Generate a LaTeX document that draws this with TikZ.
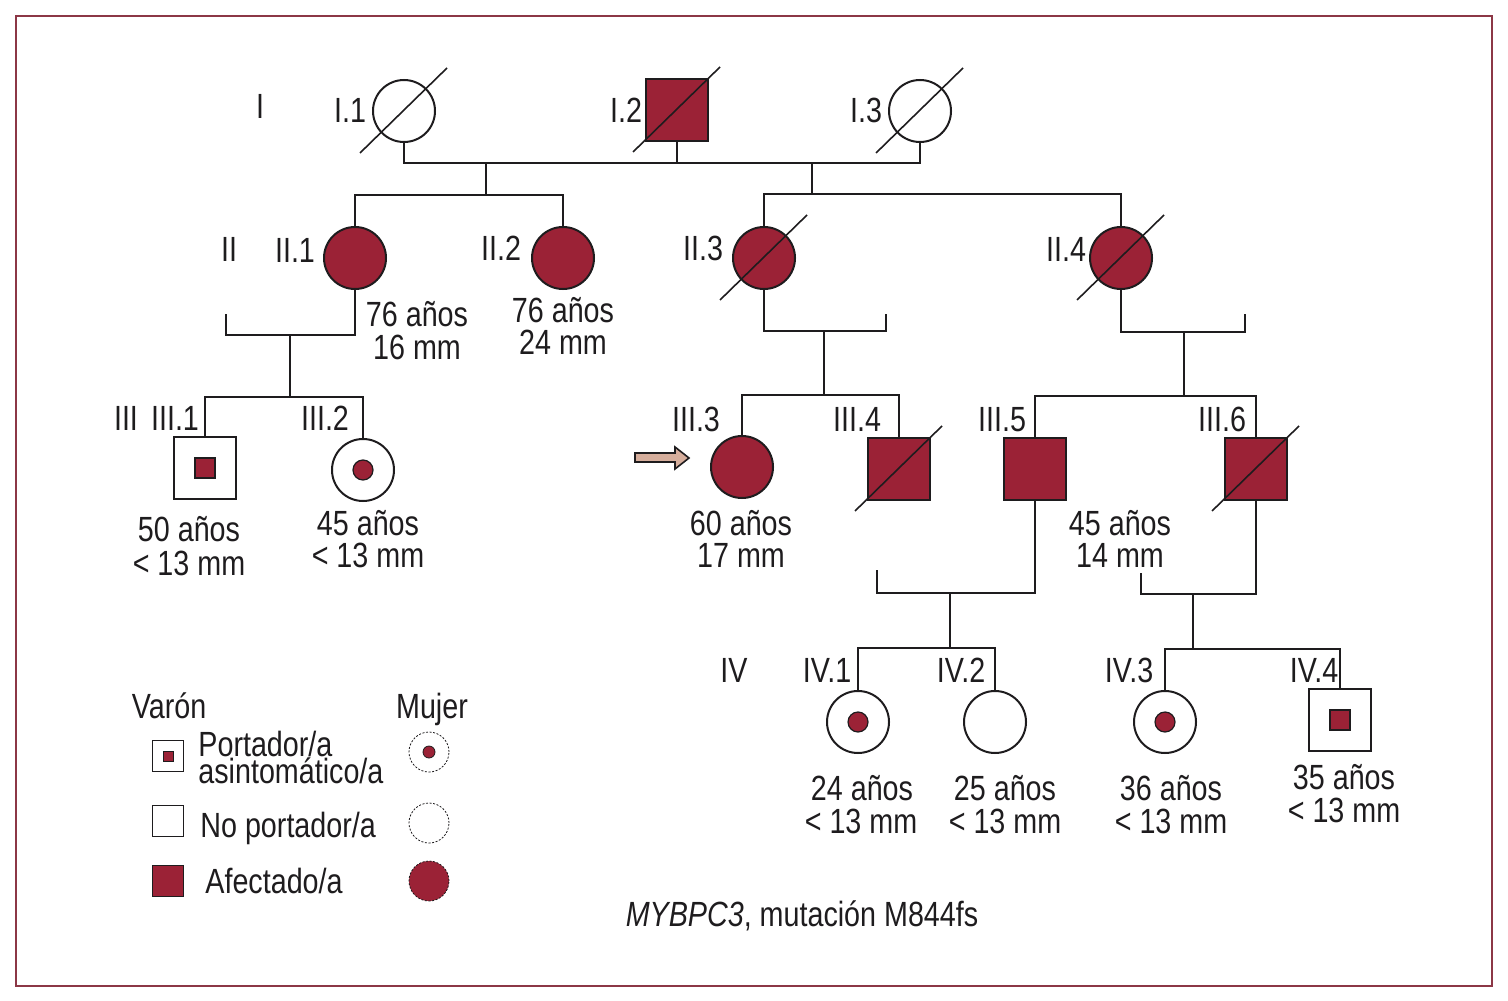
\documentclass[tikz,border=0pt]{standalone}
\usepackage{fontspec}
\setmainfont{Liberation Sans}[FakeStretch=0.82]
\definecolor{affred}{RGB}{155,34,54}
\definecolor{framered}{RGB}{140,55,70}
\definecolor{ink}{RGB}{30,28,30}
\definecolor{arrowfill}{RGB}{214,174,156}
\newcommand\deadmark[1]{\draw[strike] ([shift={(-44,42)}]#1.center) -- ([shift={(43,-43)}]#1.center);}
\begin{document}
\begin{tikzpicture}[x=0.5pt,y=-0.5pt,
  sym/.style={draw=ink, line width=1pt, inner sep=0pt, outer sep=0pt, minimum size=31pt, fill=white},
  fem/.style={sym, circle},
  mal/.style={sym, rectangle},
  affected/.style={fill=affred},
  cdot/.style={circle, draw=ink, line width=0.6pt, fill=affred, minimum size=10pt, inner sep=0pt},
  csq/.style={rectangle, draw=ink, line width=0.6pt, fill=affred, minimum size=10pt, inner sep=0pt},
  link/.style={draw=ink, line width=1pt},
  strike/.style={draw=ink, line width=0.8pt},
  lab/.style={anchor=base, inner sep=0pt, text=ink, font=\fontsize{17.5}{17.5}\selectfont},
  lgbox/.style={rectangle, draw=ink, line width=0.6pt, minimum size=15.5pt, inner sep=0pt, fill=white},
  lgcirc/.style={circle, draw=ink, line width=0.4pt, dash pattern=on 1pt off 0.8pt, minimum size=20pt, inner sep=0pt, fill=white}
]
\useasboundingbox (0,0) rectangle (1508,1000);
\draw[framered, line width=1pt] (16,16) rectangle (1492,986);

% ---- generation I
\node[fem] (I1) at (404,111) {};
\node[mal, affected] (I2) at (677,110) {};
\node[fem] (I3) at (920,111) {};
% ---- generation II
\node[fem, affected] (II1) at (355,258) {};
\node[fem, affected] (II2) at (563,258) {};
\node[fem, affected] (II3) at (764,258) {};
\node[fem, affected] (II4) at (1121,258) {};
% ---- generation III
\node[mal] (III1) at (205,468) {};
\node[csq] (III1d) at (III1.center) {};
\node[fem] (III2) at (363,470) {};
\node[cdot] (III2d) at (III2.center) {};
\node[fem, affected] (III3) at (742,467) {};
\node[mal, affected] (III4) at (899,469) {};
\node[mal, affected] (III5) at (1035,469) {};
\node[mal, affected] (III6) at (1256,469) {};
% ---- generation IV
\node[fem] (IV1) at (858,722) {};
\node[cdot] (IV1d) at (IV1.center) {};
\node[fem] (IV2) at (995,722) {};
\node[fem] (IV3) at (1165,722) {};
\node[cdot] (IV3d) at (IV3.center) {};
\node[mal] (IV4) at (1340,720) {};
\node[csq] (IV4d) at (IV4.center) {};

% ---- deceased marks
\deadmark{I1}\deadmark{I2}\deadmark{I3}
\deadmark{II3}\deadmark{II4}\deadmark{III4}\deadmark{III6}

% ---- connectors
\coordinate (m1) at (486,163);
\coordinate (m2) at (812,163);
\coordinate (d1) at (486,195);
\coordinate (d2) at (812,194);
\draw[link] (I1.south) |- (m1) -| (I3.south);
\draw[link] (I2.south) -- (I2.south |- m1);
\draw[link] (m1) -- (d1);
\draw[link] (m2) -- (d2);
\draw[link] (II1.north) |- (d1) -| (II2.north);
\draw[link] (II3.north) |- (d2) -| (II4.north);

\coordinate (sp1) at (226,314);
\coordinate (mm1) at (290,335);
\coordinate (c1) at (290,397);
\draw[link] (sp1) |- (mm1) -| (II1.south);
\draw[link] (mm1) -- (c1);
\draw[link] (III1.north) |- (c1) -| (III2.north);

\coordinate (sp3) at (886,314);
\coordinate (mm3) at (824,331);
\coordinate (c3) at (824,395);
\draw[link] (sp3) |- (mm3) -| (II3.south);
\draw[link] (mm3) -- (c3);
\draw[link] (III3.north) |- (c3) -| (III4.north);

\coordinate (sp4) at (1245,314);
\coordinate (mm4) at (1184,332);
\coordinate (c4) at (1184,396);
\draw[link] (sp4) |- (mm4) -| (II4.south);
\draw[link] (mm4) -- (c4);
\draw[link] (III5.north) |- (c4) -| (III6.north);

\coordinate (sp5) at (877,570);
\coordinate (mm5) at (950,593);
\coordinate (c5) at (950,648);
\draw[link] (sp5) |- (mm5) -| (III5.south);
\draw[link] (mm5) -- (c5);
\draw[link] (IV1.north) |- (c5) -| (IV2.north);

\coordinate (sp6) at (1141,573);
\coordinate (mm6) at (1193,594);
\coordinate (c6) at (1193,649);
\draw[link] (sp6) |- (mm6) -| (III6.south);
\draw[link] (mm6) -- (c6);
\draw[link] (IV3.north) |- (c6) -| (IV4.north);

% ---- proband arrow
\draw[draw=ink, line width=0.8pt, fill=arrowfill, line join=miter]
  (635,453) -- (675,453) -- (675,447) -- (689,458) -- (675,469) -- (675,462) -- (635,462) -- cycle;

% ---- generation labels
\node[lab] (gI) at (260,119) {I};
\node[lab] (gII) at (229,262) {II};
\node[lab] (gIII) at (126,430) {III};
\node[lab] (gIV) at (734,682) {IV};
% ---- individual labels
\node[lab] (lI1) at (350,123) {I.1};
\node[lab] (lI2) at (626,123) {I.2};
\node[lab] (lI3) at (866,123) {I.3};
\node[lab] (lII1) at (295,263) {II.1};
\node[lab] (lII2) at (501,260) {II.2};
\node[lab] (lII3) at (703,260) {II.3};
\node[lab] (lII4) at (1066,261) {II.4};
\node[lab] (lIII1) at (175,430) {III.1};
\node[lab] (lIII2) at (325,430) {III.2};
\node[lab] (lIII3) at (696,431) {III.3};
\node[lab] (lIII4) at (857,431) {III.4};
\node[lab] (lIII5) at (1002,431) {III.5};
\node[lab] (lIII6) at (1222,431) {III.6};
\node[lab] (lIV1) at (827,682) {IV.1};
\node[lab] (lIV2) at (961,682) {IV.2};
\node[lab] (lIV3) at (1129,682) {IV.3};
\node[lab] (lIV4) at (1314,682) {IV.4};

% ---- ages / measurements
\node[lab] (aII1) at (417,326) {76 años};
\node[lab] (bII1) at (417,359) {16 mm};
\node[lab] (aII2) at (563,322) {76 años};
\node[lab] (bII2) at (563,354) {24 mm};
\node[lab] (aIII1) at (189,541) {50 años};
\node[lab] (bIII1) at (189,575) {< 13 mm};
\node[lab] (aIII2) at (368,535) {45 años};
\node[lab] (bIII2) at (368,567) {< 13 mm};
\node[lab] (aIII3) at (741,535) {60 años};
\node[lab] (bIII3) at (741,567) {17 mm};
\node[lab] (aIII5) at (1120,535) {45 años};
\node[lab] (bIII5) at (1120,567) {14 mm};
\node[lab] (aIV1) at (862,800) {24 años};
\node[lab] (bIV1) at (861,833) {< 13 mm};
\node[lab] (aIV2) at (1005,800) {25 años};
\node[lab] (bIV2) at (1005,833) {< 13 mm};
\node[lab] (aIV3) at (1171,800) {36 años};
\node[lab] (bIV3) at (1171,833) {< 13 mm};
\node[lab] (aIV4) at (1344,789) {35 años};
\node[lab] (bIV4) at (1344,822) {< 13 mm};

% ---- legend
\node[lab] (lgV) at (169,718) {Varón};
\node[lab] (lgMu) at (432,718) {Mujer};
\node[lgbox] (lgm1) at (168,756) {};
\node[rectangle, draw=ink, line width=0.5pt, fill=affred, minimum size=5pt, inner sep=0pt] (lgm1d) at (lgm1.center) {};
\node[lgbox] (lgm2) at (168,821) {};
\node[lgbox, fill=affred] (lgm3) at (168,881) {};
\node[lgcirc] (lgf1) at (429,752) {};
\node[circle, fill=affred, draw=ink, line width=0.4pt, minimum size=6pt, inner sep=0pt] (lgf1d) at (lgf1.center) {};
\node[lgcirc] (lgf2) at (429,823) {};
\node[lgcirc, fill=affred] (lgf3) at (429,881) {};
\node[lab, anchor=base west] (lgt1) at (198,756) {Portador/a};
\node[lab, anchor=base west] (lgt1b) at (198,783) {asintomático/a};
\node[lab, anchor=base west] (lgt2) at (200,837) {No portador/a};
\node[lab, anchor=base west] (lgt3) at (205,893) {Afectado/a};

% ---- caption
\node[lab] (cap) at (802,926) {\textit{MYBPC3}, mutación M844fs};
\end{tikzpicture}
\end{document}
